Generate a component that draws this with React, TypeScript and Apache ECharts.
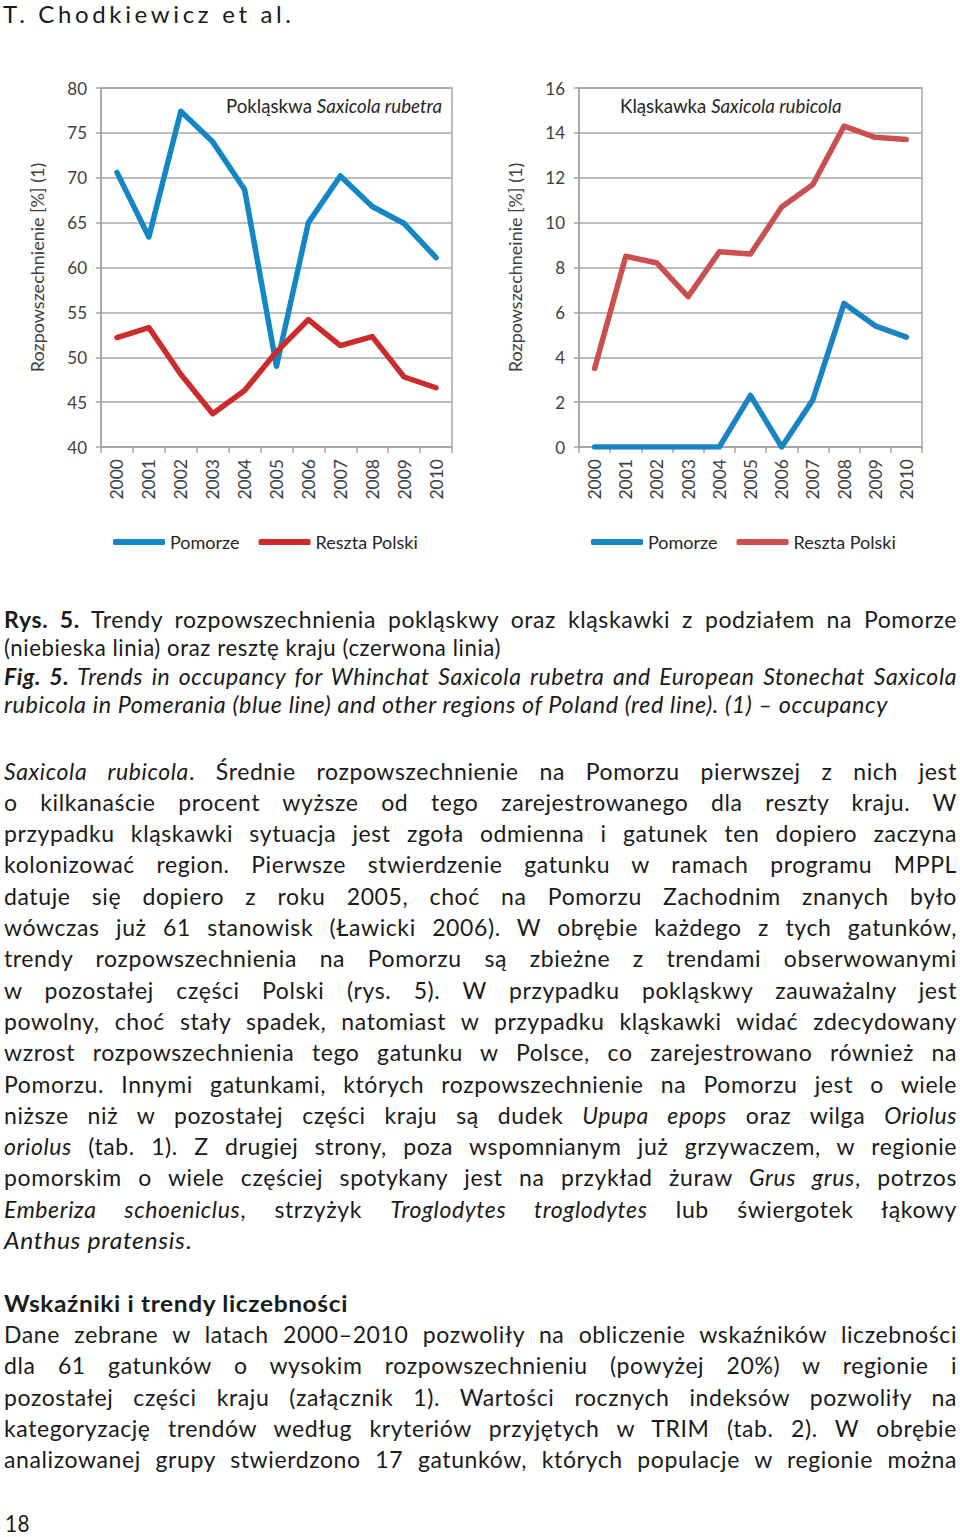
import React, { useEffect, useLayoutEffect, useRef } from "react";
import * as echarts from "echarts";

const years = ["2000", "2001", "2002", "2003", "2004", "2005", "2006", "2007", "2008", "2009", "2010"];
const rubetraPomorze = [70.6, 63.4, 77.4, 74.0, 68.7, 49.0, 65.0, 70.2, 66.8, 64.9, 61.1];
const rubetraReszta = [52.2, 53.3, 48.1, 43.7, 46.3, 50.6, 54.2, 51.3, 52.3, 47.8, 46.6];
const rubicolaPomorze = [0, 0, 0, 0, 0, 2.3, 0, 2.1, 6.4, 5.4, 4.9];
const rubicolaReszta = [3.5, 8.5, 8.2, 6.7, 8.7, 8.6, 10.7, 11.7, 14.3, 13.8, 13.7];
const leftTicks = { min: 40, max: 80, interval: 5 };
const rightTicks = { min: 0, max: 16, interval: 2 };

const FONT = "Lato, 'Open Sans', sans-serif";
const GRAY = "#A6A6A6";
const BLUE_L = "#1386C6";
const RED_L = "#CC2B2B";
const BLUE_R = "#1A84C3";
const RED_R = "#C9504F";

type LineProps = {
  top: number;
  mode?: "justify" | "scale" | "letters" | "none";
  target?: number;
  left?: number;
  size?: number;
  bold?: boolean;
  italic?: boolean;
  lh?: number;
  ls?: number;
  children: React.ReactNode;
};

function TextLine({ top, mode = "justify", target = 953, left = 4, size = 23, bold, italic, lh = 30, ls = 0.6, children }: LineProps) {
  const ref = useRef<HTMLSpanElement>(null);
  const fit = () => {
    const el = ref.current;
    if (!el) return;
    el.style.wordSpacing = "0px";
    el.style.letterSpacing = mode === "letters" ? "0px" : `${ls}px`;
    el.style.transform = "";
    const w = el.getBoundingClientRect().width;
    const txt = el.textContent || "";
    if (mode === "none") return;
    if (w > target || mode === "scale") {
      el.style.transform = `scaleX(${target / w})`;
      return;
    }
    if (mode === "letters") {
      el.style.letterSpacing = `${(target - w) / Math.max(1, txt.length - 1)}px`;
      return;
    }
    const spaces = (txt.match(/ /g) || []).length;
    if (spaces > 0) el.style.wordSpacing = `${(target - w) / spaces}px`;
  };
  useLayoutEffect(() => {
    fit();
    if ((document as any).fonts && (document as any).fonts.ready) {
      (document as any).fonts.ready.then(fit);
    }
  });
  return (
    <div
      style={{
        position: "absolute",
        left,
        top: top - lh / 2,
        height: lh,
        lineHeight: `${lh}px`,
        whiteSpace: "nowrap",
        fontFamily: FONT,
        fontSize: size,
        color: "#1a1a1a",
        fontWeight: bold ? 700 : 400,
        fontStyle: italic ? "italic" : "normal",
      }}
    >
      <span ref={ref} style={{ display: "inline-block", whiteSpace: "pre", transformOrigin: "left center" }}>
        {children}
      </span>
    </div>
  );
}

const I = ({ children }: { children: React.ReactNode }) => <i>{children}</i>;

function Chart() {
  const ref = useRef<HTMLDivElement>(null);
  useEffect(() => {
    if (!ref.current) return;
    const chart = echarts.init(ref.current, undefined, { renderer: "svg" });
    const axisLabel = { fontSize: 17, color: "#404040", fontFamily: FONT };
    const xAxisBase = (gridIndex: number) => ({
      type: "category" as const,
      gridIndex,
      data: years,
      boundaryGap: true,
      axisLine: { show: true, lineStyle: { color: GRAY, width: 1.5 } },
      axisTick: { show: true, length: 6, lineStyle: { color: GRAY, width: 1.5 } },
      axisLabel: { ...axisLabel, fontSize: 17.5, rotate: 90, margin: 12, interval: 0 },
      splitLine: { show: false },
    });
    const yAxisBase = (gridIndex: number, t: { min: number; max: number; interval: number }, name: string) => ({
      type: "value" as const,
      gridIndex,
      min: t.min,
      max: t.max,
      interval: t.interval,
      axisLine: { show: true, lineStyle: { color: GRAY, width: 1.5 } },
      axisTick: { show: true, length: 5, lineStyle: { color: GRAY, width: 1.5 } },
      axisLabel: { ...axisLabel, margin: 14 },
      splitLine: { show: true, lineStyle: { color: GRAY, width: 1.5 } },
      name,
      nameLocation: "middle" as const,
      nameGap: 55,
      nameTextStyle: { fontSize: 18, color: "#404040", fontFamily: FONT },
    });
    const line = (name: string, data: number[], color: string, idx: number) => ({
      type: "line" as const,
      name,
      data,
      xAxisIndex: idx,
      yAxisIndex: idx,
      symbol: "none",
      lineStyle: { color, width: 5.5, cap: "round", join: "round" },
      itemStyle: { color },
    });
    const legendBase = (left: number, blue: string, red: string) => ({
      left,
      top: 533,
      padding: 0,
      orient: "horizontal" as const,
      itemWidth: 52,
      itemHeight: 6,
      itemGap: 19,
      icon: "roundRect",
      selectedMode: false,
      textStyle: { fontSize: 18, color: "#262626", fontFamily: FONT },
      data: [
        { name: "Pomorze", itemStyle: { color: blue } },
        { name: "Reszta Polski", itemStyle: { color: red } },
      ],
    });
    const titleText = (x: number, a: string, b: string) => ({
      type: "text" as const,
      left: x,
      top: 96,
      style: {
        text: `{a|${a} }{b|${b}}`,
        rich: {
          a: { fontSize: 18.7, fontFamily: FONT, fill: "#262626" },
          b: { fontSize: 18.7, fontFamily: FONT, fill: "#262626", fontStyle: "italic" },
        },
      },
    });
    chart.setOption({
      animation: false,
      grid: [
        { left: 101, top: 88, width: 351, height: 359, show: true, borderColor: GRAY, borderWidth: 1.5 },
        { left: 579, top: 88, width: 343, height: 359, show: true, borderColor: GRAY, borderWidth: 1.5 },
      ],
      xAxis: [xAxisBase(0), xAxisBase(1)],
      yAxis: [
        yAxisBase(0, leftTicks, "Rozpowszechnienie [%] (1)"),
        yAxisBase(1, rightTicks, "Rozpowszechneinie [%] (1)"),
      ],
      legend: [legendBase(113, BLUE_L, RED_L), legendBase(591, BLUE_R, RED_R)],
      graphic: [
        titleText(226, "Pokląskwa", "Saxicola rubetra"),
        titleText(620, "Kląskawka", "Saxicola rubicola"),
      ],
      series: [
        line("Pomorze", rubetraPomorze, BLUE_L, 0),
        line("Reszta Polski", rubetraReszta, RED_L, 0),
        line("Pomorze", rubicolaPomorze, BLUE_R, 1),
        line("Reszta Polski", rubicolaReszta, RED_R, 1),
      ],
    });
    return () => chart.dispose();
  }, []);
  return <div ref={ref} style={{ position: "absolute", left: 0, top: 0, width: 960, height: 580 }} />;
}

const bodyTops = [771, 802, 833, 864, 896, 927, 958, 990, 1021, 1052, 1084, 1115, 1146, 1177, 1209, 1240];
const parTops = [1334, 1365, 1397, 1428, 1459];

export default function App() {
  return (
    <div style={{ position: "absolute", left: 0, top: 0, width: 960, height: 1537, background: "#fff", overflow: "hidden" }}>
      <Chart />
      <TextLine top={14} lh={28} left={3} mode="letters" target={288} size={24}>
        T. Chodkiewicz et al.
      </TextLine>

      <TextLine top={619} lh={28}>
        <b>Rys. 5.</b> Trendy rozpowszechnienia pokląskwy oraz kląskawki z podziałem na Pomorze
      </TextLine>
      <TextLine top={647} lh={28} mode="scale" target={497}>
        (niebieska linia) oraz resztę kraju (czerwona linia)
      </TextLine>
      <TextLine top={676} lh={28} italic>
        <b>Fig. 5.</b> Trends in occupancy for Whinchat Saxicola rubetra and European Stonechat Saxicola
      </TextLine>
      <TextLine top={704} lh={28} italic mode="scale" target={884}>
        rubicola in Pomerania (blue line) and other regions of Poland (red line). (1) – occupancy
      </TextLine>

      <TextLine top={bodyTops[0]}>
        <I>Saxicola rubicola</I>. Średnie rozpowszechnienie na Pomorzu pierwszej z nich jest
      </TextLine>
      <TextLine top={bodyTops[1]}>o kilkanaście procent wyższe od tego zarejestrowanego dla reszty kraju. W</TextLine>
      <TextLine top={bodyTops[2]}>przypadku kląskawki sytuacja jest zgoła odmienna i gatunek ten dopiero zaczyna</TextLine>
      <TextLine top={bodyTops[3]}>kolonizować region. Pierwsze stwierdzenie gatunku w ramach programu MPPL</TextLine>
      <TextLine top={bodyTops[4]}>datuje się dopiero z roku 2005, choć na Pomorzu Zachodnim znanych było</TextLine>
      <TextLine top={bodyTops[5]}>wówczas już 61 stanowisk (Ławicki 2006). W obrębie każdego z tych gatunków,</TextLine>
      <TextLine top={bodyTops[6]}>trendy rozpowszechnienia na Pomorzu są zbieżne z trendami obserwowanymi</TextLine>
      <TextLine top={bodyTops[7]}>w pozostałej części Polski (rys. 5). W przypadku pokląskwy zauważalny jest</TextLine>
      <TextLine top={bodyTops[8]}>powolny, choć stały spadek, natomiast w przypadku kląskawki widać zdecydowany</TextLine>
      <TextLine top={bodyTops[9]}>wzrost rozpowszechnienia tego gatunku w Polsce, co zarejestrowano również na</TextLine>
      <TextLine top={bodyTops[10]}>Pomorzu. Innymi gatunkami, których rozpowszechnienie na Pomorzu jest o wiele</TextLine>
      <TextLine top={bodyTops[11]}>
        niższe niż w pozostałej części kraju są dudek <I>Upupa epops</I> oraz wilga <I>Oriolus</I>
      </TextLine>
      <TextLine top={bodyTops[12]}>
        <I>oriolus</I> (tab. 1). Z drugiej strony, poza wspomnianym już grzywaczem, w regionie
      </TextLine>
      <TextLine top={bodyTops[13]}>
        pomorskim o wiele częściej spotykany jest na przykład żuraw <I>Grus grus</I>, potrzos
      </TextLine>
      <TextLine top={bodyTops[14]}>
        <I>Emberiza schoeniclus</I>, strzyżyk <I>Troglodytes troglodytes</I> lub świergotek łąkowy
      </TextLine>
      <TextLine top={bodyTops[15]} mode="scale" target={188}>
        <I>Anthus pratensis</I>.
      </TextLine>

      <TextLine top={1303} bold mode="scale" target={344}>
        Wskaźniki i trendy liczebności
      </TextLine>
      <TextLine top={parTops[0]}>Dane zebrane w latach 2000–2010 pozwoliły na obliczenie wskaźników liczebności</TextLine>
      <TextLine top={parTops[1]}>dla 61 gatunków o wysokim rozpowszechnieniu (powyżej 20%) w regionie i</TextLine>
      <TextLine top={parTops[2]}>pozostałej części kraju (załącznik 1). Wartości rocznych indeksów pozwoliły na</TextLine>
      <TextLine top={parTops[3]}>kategoryzację trendów według kryteriów przyjętych w TRIM (tab. 2). W obrębie</TextLine>
      <TextLine top={parTops[4]}>analizowanej grupy stwierdzono 17 gatunków, których populacje w regionie można</TextLine>

      <TextLine top={1523} lh={26} left={5} mode="scale" target={25} size={24}>
        18
      </TextLine>
    </div>
  );
}
